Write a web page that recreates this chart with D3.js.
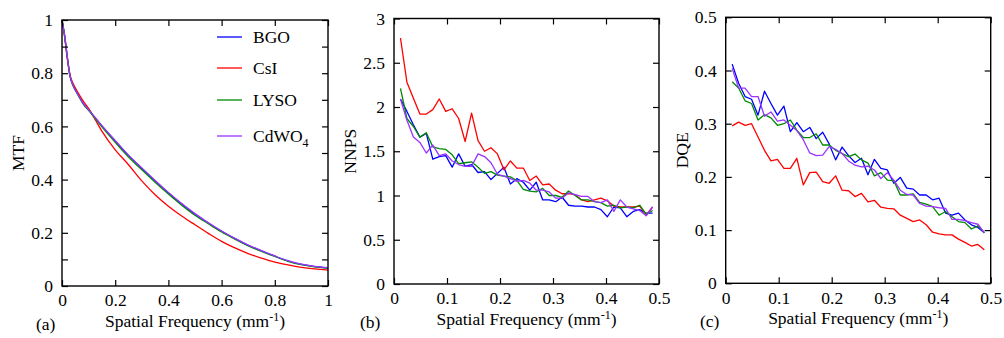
<!DOCTYPE html>
<html>
<head>
<meta charset="utf-8">
<script src="https://cdn.jsdelivr.net/npm/d3@7"></script>
<style>
  body { margin: 0; background: #fff; }
  svg { display: block; }
  text { font-family: "Liberation Serif", "Times New Roman", serif; font-size: 17.5px; fill: #000; }
</style>
</head>
<body>
<svg id="chart" width="1004" height="338"></svg>
<script>
// series names / colours (same order in every panel)
const seriesNames = ["BGO", "CsI", "LYSO", "CdWO4"];
const seriesColors = ["#0000ff", "#ff0000", "#008a00", "#9933ff"];

// (a) MTF
const mtfFreq = [0, 0.01, 0.02, 0.03, 0.04, 0.05, 0.06, 0.08, 0.1, 0.125, 0.15, 0.2, 0.25, 0.3, 0.35, 0.4, 0.45, 0.5, 0.55, 0.6, 0.65, 0.7, 0.75, 0.8, 0.85, 0.9, 0.95, 1.0];
const mtfBGO   = [1.0, 0.94, 0.86, 0.79, 0.758, 0.737, 0.72, 0.686, 0.662, 0.632, 0.602, 0.545, 0.49, 0.442, 0.395, 0.35, 0.308, 0.27, 0.237, 0.206, 0.178, 0.153, 0.132, 0.112, 0.094, 0.081, 0.073, 0.068];
const mtfCsI   = [1.0, 0.935, 0.855, 0.795, 0.765, 0.745, 0.727, 0.695, 0.668, 0.625, 0.582, 0.512, 0.456, 0.395, 0.343, 0.3, 0.263, 0.23, 0.198, 0.168, 0.143, 0.122, 0.105, 0.09, 0.079, 0.07, 0.064, 0.06];
const mtfLYSO  = [1.0, 0.94, 0.86, 0.79, 0.757, 0.736, 0.718, 0.684, 0.66, 0.629, 0.598, 0.54, 0.485, 0.437, 0.39, 0.346, 0.304, 0.266, 0.234, 0.203, 0.176, 0.151, 0.13, 0.111, 0.093, 0.08, 0.072, 0.067];
const mtfCdWO4 = [1.0, 0.94, 0.86, 0.79, 0.758, 0.737, 0.72, 0.687, 0.663, 0.633, 0.603, 0.547, 0.492, 0.444, 0.397, 0.352, 0.31, 0.272, 0.238, 0.207, 0.179, 0.154, 0.133, 0.113, 0.095, 0.082, 0.074, 0.069];

// (b), (c) sampled frequencies
const freq = [0.0122, 0.0244, 0.0366, 0.0488, 0.061, 0.0732, 0.0854, 0.0976, 0.1098, 0.122,
              0.1342, 0.1464, 0.1586, 0.1708, 0.183, 0.1952, 0.2074, 0.2196, 0.2318, 0.244,
              0.2562, 0.2684, 0.2806, 0.2928, 0.305, 0.3172, 0.3294, 0.3416, 0.3538, 0.366,
              0.3782, 0.3904, 0.4026, 0.4148, 0.427, 0.4392, 0.4514, 0.4636, 0.4758, 0.488];

// (b) NNPS
const nnpsBGO   = [2.09, 1.95, 1.80, 1.66, 1.70, 1.41, 1.44, 1.45, 1.32, 1.47, 1.33, 1.35, 1.26, 1.27, 1.18, 1.25, 1.32, 1.13, 1.19, 1.15, 1.06, 1.15, 0.95, 0.95, 0.93, 0.98, 0.89, 0.88, 0.88, 0.87, 0.87, 0.84, 0.76, 0.87, 0.86, 0.76, 0.82, 0.84, 0.80, 0.80];
const nnpsCsI   = [2.78, 2.28, 2.10, 1.92, 1.92, 1.97, 2.09, 1.95, 1.98, 1.87, 1.61, 1.93, 1.62, 1.50, 1.54, 1.47, 1.29, 1.39, 1.31, 1.31, 1.17, 1.22, 1.12, 1.13, 1.06, 1.02, 1.02, 1.01, 0.95, 0.93, 0.95, 0.97, 0.94, 0.88, 0.87, 0.87, 0.87, 0.88, 0.78, 0.87];
const nnpsLYSO  = [2.21, 1.87, 1.78, 1.66, 1.71, 1.55, 1.53, 1.52, 1.46, 1.36, 1.37, 1.38, 1.32, 1.25, 1.27, 1.23, 1.22, 1.21, 1.17, 1.07, 1.05, 1.04, 1.08, 1.00, 1.00, 0.98, 1.05, 1.00, 0.95, 0.95, 0.93, 0.92, 0.88, 0.89, 0.86, 0.87, 0.86, 0.89, 0.79, 0.83];
const nnpsCdWO4 = [2.09, 1.85, 1.66, 1.60, 1.48, 1.57, 1.45, 1.47, 1.39, 1.35, 1.33, 1.33, 1.47, 1.44, 1.37, 1.24, 1.22, 1.19, 1.16, 1.17, 1.14, 1.06, 1.06, 1.04, 0.97, 0.97, 1.03, 1.01, 0.99, 0.99, 0.93, 0.92, 0.95, 0.82, 0.95, 0.87, 0.85, 0.83, 0.77, 0.87];

// (c) DQE
const dqeBGO   = [0.412, 0.376, 0.351, 0.346, 0.316, 0.361, 0.338, 0.316, 0.333, 0.285, 0.302, 0.285, 0.293, 0.272, 0.284, 0.262, 0.232, 0.256, 0.240, 0.227, 0.235, 0.204, 0.233, 0.216, 0.213, 0.188, 0.199, 0.179, 0.177, 0.166, 0.166, 0.157, 0.160, 0.132, 0.128, 0.132, 0.119, 0.110, 0.105, 0.095];
const dqeCsI   = [0.296, 0.303, 0.297, 0.300, 0.275, 0.250, 0.230, 0.233, 0.216, 0.216, 0.235, 0.185, 0.208, 0.209, 0.191, 0.188, 0.202, 0.175, 0.174, 0.163, 0.169, 0.153, 0.156, 0.143, 0.141, 0.140, 0.128, 0.122, 0.116, 0.119, 0.110, 0.096, 0.093, 0.091, 0.091, 0.083, 0.077, 0.070, 0.073, 0.063];
const dqeLYSO  = [0.379, 0.367, 0.343, 0.338, 0.307, 0.317, 0.311, 0.297, 0.300, 0.307, 0.288, 0.274, 0.274, 0.281, 0.260, 0.260, 0.250, 0.244, 0.238, 0.243, 0.232, 0.226, 0.202, 0.208, 0.194, 0.193, 0.166, 0.166, 0.168, 0.152, 0.149, 0.144, 0.128, 0.135, 0.125, 0.116, 0.114, 0.102, 0.108, 0.095];
const dqeCdWO4 = [0.404, 0.367, 0.367, 0.351, 0.351, 0.314, 0.322, 0.305, 0.307, 0.297, 0.287, 0.270, 0.245, 0.240, 0.241, 0.257, 0.252, 0.244, 0.230, 0.222, 0.219, 0.220, 0.213, 0.197, 0.208, 0.194, 0.175, 0.167, 0.166, 0.150, 0.145, 0.144, 0.142, 0.141, 0.120, 0.120, 0.118, 0.114, 0.111, 0.095];

// tick values
const mtfXTicks = [0, 0.2, 0.4, 0.6, 0.8, 1];
const mtfYTicks = [0, 0.1, 0.2, 0.3, 0.4, 0.5, 0.6, 0.7, 0.8, 0.9, 1];
const mtfYLabels = [0, 0.2, 0.4, 0.6, 0.8, 1];
const halfXTicks = [0, 0.1, 0.2, 0.3, 0.4, 0.5];
const nnpsYTicks = [0, 0.5, 1, 1.5, 2, 2.5, 3];
const dqeYTicks = [0, 0.1, 0.2, 0.3, 0.4, 0.5];

const svg = d3.select("#chart");
const fmt = d3.format("~g");
const TICK = 6;

function drawPanel(p) {
    const g = svg.append("g");
    const x = d3.scaleLinear().domain(p.xDomain).range([p.left, p.right]);
    const y = d3.scaleLinear().domain(p.yDomain).range([p.bottom, p.top]);

    // data lines
    const line = d3.line()
        .x(d => x(d[0]))
        .y(d => y(d[1]))
        .curve(p.curve || d3.curveLinear);
    p.series.forEach((vals, k) => {
        g.append("path")
            .datum(p.xs.map((v, i) => [v, vals[i]]))
            .attr("d", line)
            .attr("fill", "none")
            .attr("stroke", seriesColors[k])
            .attr("stroke-width", 1.3)
            .attr("stroke-linejoin", "round");
    });

    // inward ticks on all four sides
    const strip = s => s.select(".domain").remove();
    g.append("g").attr("transform", `translate(0,${p.bottom})`)
        .call(d3.axisBottom(x).tickValues(p.xTicks).tickSize(-TICK).tickPadding(8).tickFormat(fmt))
        .call(strip);
    g.append("g").attr("transform", `translate(0,${p.top})`)
        .call(d3.axisTop(x).tickValues(p.xTicks).tickSize(-TICK).tickFormat(""))
        .call(strip);
    g.append("g").attr("transform", `translate(${p.left},0)`)
        .call(d3.axisLeft(y).tickValues(p.yTicks).tickSize(-TICK).tickFormat(""))
        .call(strip);
    g.append("g").attr("transform", `translate(${p.left},0)`)
        .call(d3.axisLeft(y).tickValues(p.yLabels).tickSize(0).tickPadding(9).tickFormat(fmt))
        .call(strip);
    g.append("g").attr("transform", `translate(${p.right},0)`)
        .call(d3.axisRight(y).tickValues(p.yTicks).tickSize(-TICK).tickFormat(""))
        .call(strip);
    g.selectAll(".tick line").attr("stroke", "#000").attr("stroke-width", 1.2);
    g.selectAll(".tick text").attr("font-size", null).attr("font-family", null);

    // frame
    g.append("rect")
        .attr("x", p.left).attr("y", p.top)
        .attr("width", p.right - p.left).attr("height", p.bottom - p.top)
        .attr("fill", "none").attr("stroke", "#000").attr("stroke-width", 1.4);

    // axis titles
    const xt = g.append("text")
        .attr("x", (p.left + p.right) / 2).attr("y", p.bottom + 41)
        .attr("text-anchor", "middle");
    xt.append("tspan").text("Spatial Frequency (mm");
    xt.append("tspan").attr("dy", -6).attr("font-size", 12).text("-1");
    xt.append("tspan").attr("dy", 6).text(")");

    g.append("text")
        .attr("transform", `translate(${p.left - 38},${(p.top + p.bottom) / 2}) rotate(-90)`)
        .attr("text-anchor", "middle")
        .text(p.yTitle);

    g.append("text")
        .attr("x", p.tagX).attr("y", p.bottom + 44)
        .text(p.tag);
}

drawPanel({
    left: 62, right: 328, top: 20, bottom: 286,
    xDomain: [0, 1], yDomain: [0, 1],
    xTicks: mtfXTicks, yTicks: mtfYTicks, yLabels: mtfYLabels,
    xs: mtfFreq, series: [mtfBGO, mtfCsI, mtfLYSO, mtfCdWO4],
    curve: d3.curveMonotoneX,
    yTitle: "MTF", tag: "(a)", tagX: 36
});

drawPanel({
    left: 394, right: 659, top: 18.5, bottom: 284,
    xDomain: [0, 0.5], yDomain: [0, 3],
    xTicks: halfXTicks, yTicks: nnpsYTicks, yLabels: nnpsYTicks,
    xs: freq, series: [nnpsBGO, nnpsCsI, nnpsLYSO, nnpsCdWO4],
    yTitle: "NNPS", tag: "(b)", tagX: 360
});

drawPanel({
    left: 725.7, right: 990.7, top: 17.3, bottom: 283.3,
    xDomain: [0, 0.5], yDomain: [0, 0.5],
    xTicks: halfXTicks, yTicks: dqeYTicks, yLabels: dqeYTicks,
    xs: freq, series: [dqeBGO, dqeCsI, dqeLYSO, dqeCdWO4],
    yTitle: "DQE", tag: "(c)", tagX: 700
});

// legend in panel (a)
const legendY = [37, 68, 100, 136];
const legend = svg.append("g");
seriesNames.forEach((name, k) => {
    legend.append("line")
        .attr("x1", 217).attr("x2", 242)
        .attr("y1", legendY[k]).attr("y2", legendY[k])
        .attr("stroke", seriesColors[k]).attr("stroke-width", 1.3);
    const t = legend.append("text").attr("x", 253).attr("y", legendY[k] + 6);
    const m = name.match(/^(.*?)(\d+)$/);
    if (m) {
        t.append("tspan").text(m[1]);
        t.append("tspan").attr("dy", 5).attr("font-size", 12).text(m[2]);
    } else {
        t.text(name);
    }
});
</script>
</body>
</html>
